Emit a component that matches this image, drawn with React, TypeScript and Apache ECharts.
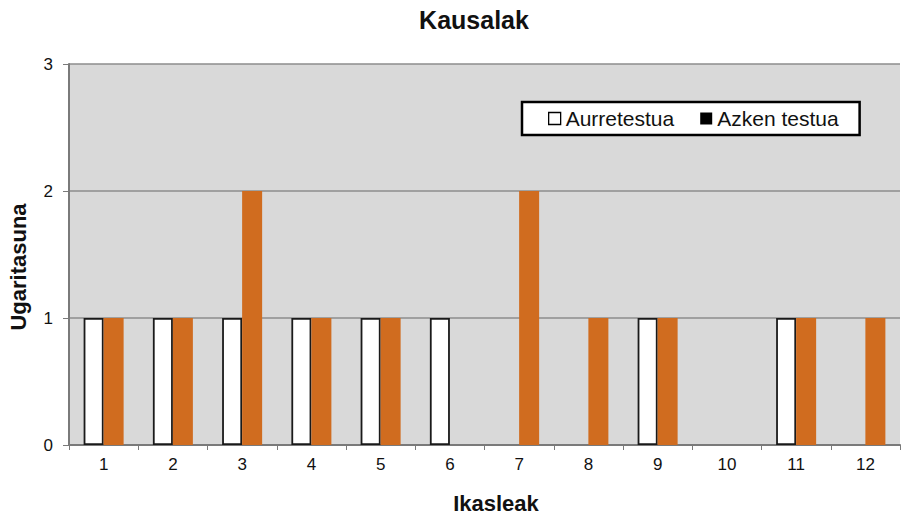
import React, { useEffect, useRef } from "react";
import * as echarts from "echarts";

const students = ["1", "2", "3", "4", "5", "6", "7", "8", "9", "10", "11", "12"];
const aurretestua = [1, 1, 1, 1, 1, 1, 0, 0, 1, 0, 1, 0];
const azkenTestua = [1, 1, 2, 1, 1, 0, 2, 1, 1, 0, 1, 1];
const yTicks = [0, 1, 2, 3];

const FONT = "'Liberation Sans', Arial, sans-serif";

export default function App() {
  const ref = useRef<HTMLDivElement>(null);

  useEffect(() => {
    if (!ref.current) return;
    const chart = echarts.init(ref.current, null, { renderer: "svg" });
    chart.setOption({
      animation: false,
      backgroundColor: "#ffffff",
      textStyle: { fontFamily: FONT },
      graphic: [
        {
          type: "text",
          x: 474,
          y: 20,
          style: {
            text: "Kausalak",
            font: `bold 25px ${FONT}`,
            fill: "#111111",
            align: "center",
            verticalAlign: "middle",
          },
        },
        {
          type: "text",
          x: 496,
          y: 503,
          style: {
            text: "Ikasleak",
            font: `bold 22px ${FONT}`,
            fill: "#111111",
            align: "center",
            verticalAlign: "middle",
          },
        },
        {
          type: "text",
          x: 18,
          y: 267,
          rotation: Math.PI / 2,
          style: {
            text: "Ugaritasuna",
            font: `bold 22px ${FONT}`,
            fill: "#111111",
            align: "center",
            verticalAlign: "middle",
          },
        },
      ],
      legend: {
        top: 102,
        left: 522,
        padding: [6, 21, 6, 26],
        backgroundColor: "#ffffff",
        borderColor: "#000000",
        borderWidth: 2.5,
        borderRadius: 0,
        itemWidth: 12,
        itemHeight: 12,
        itemGap: 26,
        textStyle: { fontSize: 21, color: "#111111", fontFamily: FONT },
        data: [
          {
            name: "Aurretestua",
            icon: "rect",
            itemStyle: { color: "#ffffff", borderColor: "#000000", borderWidth: 1.3 },
          },
          {
            name: "Azken testua",
            icon: "rect",
            itemStyle: { color: "#000000", borderWidth: 0 },
          },
        ],
      },
      grid: {
        left: 69,
        right: 1,
        top: 64,
        bottom: 70,
        show: true,
        backgroundColor: "#d9d9d9",
        borderWidth: 0,
        containLabel: false,
        outerBoundsMode: "none",
      },
      xAxis: {
        type: "category",
        data: students,
        axisLine: { lineStyle: { color: "#7a7a7a", width: 2 } },
        axisTick: { show: true, length: 5, lineStyle: { color: "#7a7a7a" } },
        axisLabel: { fontSize: 17, color: "#111111", margin: 11, fontFamily: FONT },
        splitLine: { show: false },
      },
      yAxis: {
        type: "value",
        min: yTicks[0],
        max: yTicks[yTicks.length - 1],
        interval: 1,
        axisLine: { show: true, lineStyle: { color: "#7a7a7a", width: 2 } },
        axisTick: { show: true, length: 6, lineStyle: { color: "#7a7a7a" } },
        axisLabel: { fontSize: 17, color: "#111111", margin: 16, fontFamily: FONT },
        splitLine: { show: true, lineStyle: { color: "#8c8c8c", width: 1.5 } },
      },
      series: [
        {
          name: "Aurretestua",
          type: "bar",
          data: aurretestua.map((v) => ({
            value: v,
            itemStyle: v === 0 ? { borderWidth: 0 } : undefined,
          })),
          barWidth: 20,
          barGap: "0%",
          itemStyle: { color: "#ffffff", borderColor: "#1a1a1a", borderWidth: 1.8 },
        },
        {
          name: "Azken testua",
          type: "bar",
          data: azkenTestua,
          barWidth: 20,
          barGap: "0%",
          itemStyle: { color: "#d06c1f" },
        },
      ],
    });
    return () => chart.dispose();
  }, []);

  return <div ref={ref} style={{ width: 901, height: 515, position: "absolute", left: 0, top: 0 }} />;
}
